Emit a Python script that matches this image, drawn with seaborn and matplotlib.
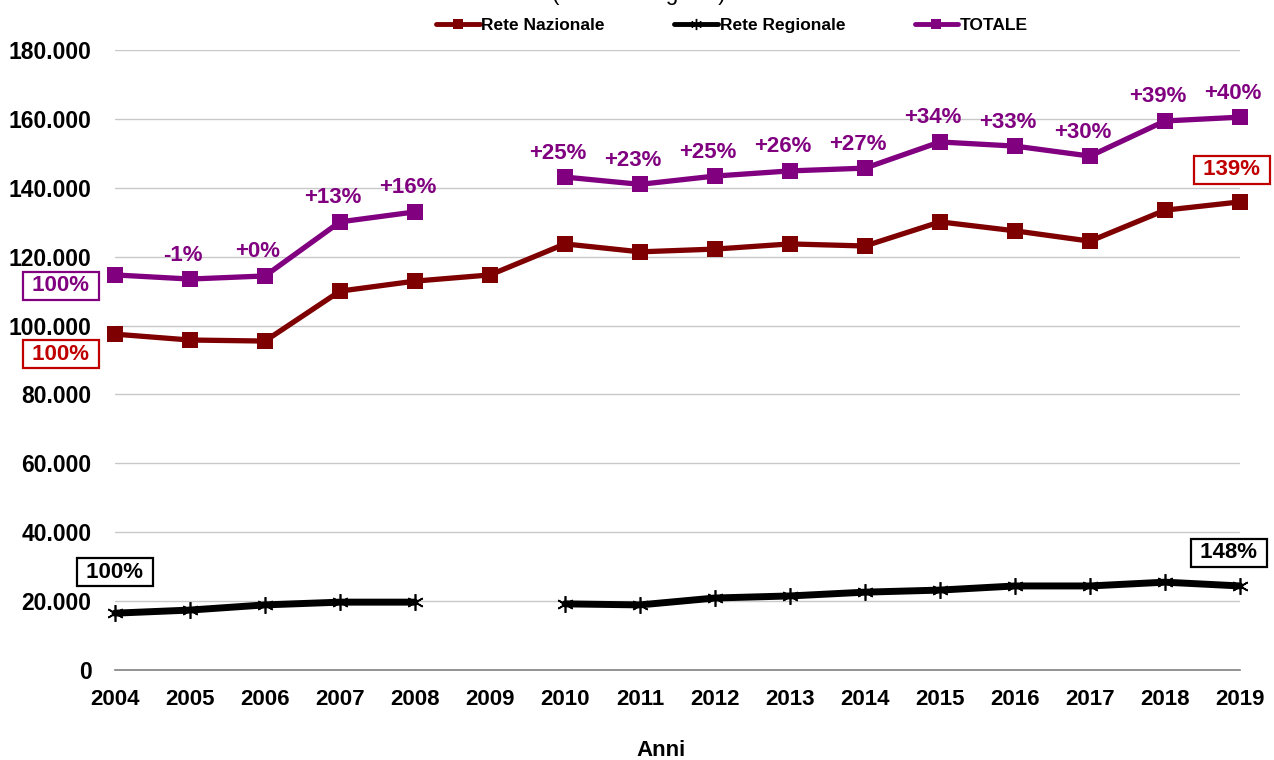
import numpy as np
import pandas as pd
import matplotlib
matplotlib.use("Agg")
import matplotlib.pyplot as plt
from matplotlib.lines import Line2D
import seaborn as sns

# --- data -------------------------------------------------------------
anni = list(range(2004, 2020))
rete_nazionale = [97500, 95800, 95500, 110000, 112900, 114700, 123700, 121400,
                  122200, 123700, 123100, 130100, 127500, 124500, 133500, 135900]
rete_regionale = [16500, 17400, 18900, 19700, 19700, np.nan, 19200, 18900,
                  20900, 21500, 22600, 23200, 24400, 24400, 25500, 24400]
totale = [114700, 113500, 114400, 130100, 133000, np.nan, 143100, 141000,
          143400, 144900, 145700, 153300, 152100, 149200, 159400, 160500]
serie_nomi = ["Rete Nazionale", "Rete Regionale", "TOTALE"]
y_ticks = [0, 20000, 40000, 60000, 80000, 100000, 120000, 140000, 160000, 180000]

# --- style ------------------------------------------------------------
sns.set_theme(style="white")
plt.rcParams["font.family"] = ["Liberation Sans", "DejaVu Sans"]
plt.rcParams["font.weight"] = "bold"
plt.rcParams["text.color"] = "black"
plt.rcParams["xtick.color"] = "black"
plt.rcParams["ytick.color"] = "black"
plt.rcParams["xtick.labelcolor"] = "black"
plt.rcParams["ytick.labelcolor"] = "black"

C_NAZ = "#7f0000"
C_NAZ_TXT = "#c00000"
C_REG = "#000000"
C_TOT = "#800080"

W, H = 1274, 760
fig = plt.figure(figsize=(W / 100, H / 100), dpi=100)
ax = fig.add_axes([115 / W, 1 - 670 / H, (1240 - 115) / W, (670 - 50) / H])


def long_frame(values):
    df = pd.DataFrame({"anno": anni, "valore": values})
    df["tratto"] = df["valore"].isna().cumsum()
    return df.dropna()


styles = {
    "Rete Nazionale": dict(values=rete_nazionale, color=C_NAZ, marker="s",
                           lw=3.8, ms=11, mew=0),
    "Rete Regionale": dict(values=rete_regionale, color=C_REG, marker=(6, 2, 0),
                           lw=5.0, ms=12, mew=1.2),
    "TOTALE": dict(values=totale, color=C_TOT, marker="s",
                   lw=3.8, ms=11, mew=0),
}

for nome in serie_nomi:
    st = styles[nome]
    df = long_frame(st["values"])
    sns.lineplot(data=df, x="anno", y="valore", units="tratto", estimator=None,
                 color=st["color"], marker=st["marker"], linewidth=st["lw"],
                 markersize=st["ms"], markeredgewidth=st["mew"],
                 markeredgecolor=st["color"], markerfacecolor=st["color"],
                 clip_on=False, zorder=3, legend=False, ax=ax)

# --- axes -------------------------------------------------------------
ax.set_xlim(anni[0], anni[-1])
ax.set_ylim(0, 180000)
ax.set_xticks(anni)
ax.set_xticklabels([str(a) for a in anni])
ax.set_yticks(y_ticks)
ax.set_yticklabels([f"{v:,}".replace(",", ".") for v in y_ticks])
ax.tick_params(axis="x", which="major", direction="out", length=8, width=1,
               color="#808080", labelcolor="black", pad=6, labelsize=16)
ax.tick_params(axis="y", length=0, pad=17, labelsize=16.5, labelcolor="black")
for lab in ax.get_xticklabels() + ax.get_yticklabels():
    lab.set_fontweight("bold")
ax.set_xlabel("")
ax.set_ylabel("")
for s in ("top", "right", "left"):
    ax.spines[s].set_visible(False)
ax.spines["bottom"].set_color("#808080")
ax.spines["bottom"].set_linewidth(1.2)
for v in y_ticks[1:]:
    ax.axhline(v, color="#c8c8c8", lw=1, zorder=1)

# --- percentage labels on TOTALE ---------------------------------------
base_tot = totale[0]
for a, v in zip(anni[1:], totale[1:]):
    if np.isnan(v):
        continue
    pct = int(round((v / base_tot - 1) * 100))
    ax.annotate(f"{pct:+d}%", (a, v), xytext=(-7, 24), textcoords="offset pixels",
                ha="center", va="center", color=C_TOT, fontsize=16,
                fontweight="bold", annotation_clip=False)


def boxed(a, v, base, dx, dy, color, edge):
    ax.annotate(f" {int(round(v / base * 100))}% ", (a, v), xytext=(dx, dy),
                textcoords="offset pixels", ha="center", va="center",
                color=color, fontsize=16, fontweight="bold", annotation_clip=False,
                bbox=dict(boxstyle="square,pad=0.16", fc="white", ec=edge, lw=1.6))


boxed(anni[0], totale[0], totale[0], -54, -11, C_TOT, C_TOT)
boxed(anni[0], rete_nazionale[0], rete_nazionale[0], -54, -20, C_NAZ_TXT, C_NAZ_TXT)
boxed(anni[0], rete_regionale[0], rete_regionale[0], 0, 41, C_REG, C_REG)
boxed(anni[-1], rete_nazionale[-1], rete_nazionale[0], -8, 32, C_NAZ_TXT, C_NAZ_TXT)
boxed(anni[-1], rete_regionale[-1], rete_regionale[0], -11, 33, C_REG, C_REG)

# --- legend, axis title, subtitle --------------------------------------
handles = [
    Line2D([], [], color=C_NAZ, lw=3.5, marker="s", ms=7, mew=0),
    Line2D([], [], color=C_REG, lw=3.5, marker=(6, 2, 0), ms=8, mew=1),
    Line2D([], [], color=C_TOT, lw=3.5, marker="s", ms=7, mew=0),
]
fig.legend(handles, serie_nomi, loc="center", bbox_to_anchor=(732 / W, 1 - 25 / H),
           ncol=3, frameon=False, handlelength=2.5, handletextpad=0.1,
           columnspacing=4.0, prop={"size": 12.5, "weight": "bold"})

fig.text(661 / W, 1 - 750 / H, "Anni", ha="center", va="center",
         fontsize=16, fontweight="bold")
# subtitle sits at the very top edge of the figure, only its lowest strokes show
fig.text(639 / W, 1.0, "(valori in migliaia)", ha="center", va="baseline",
         fontsize=16, fontweight="normal", color="black")

fig.savefig("out.png", dpi=100)
